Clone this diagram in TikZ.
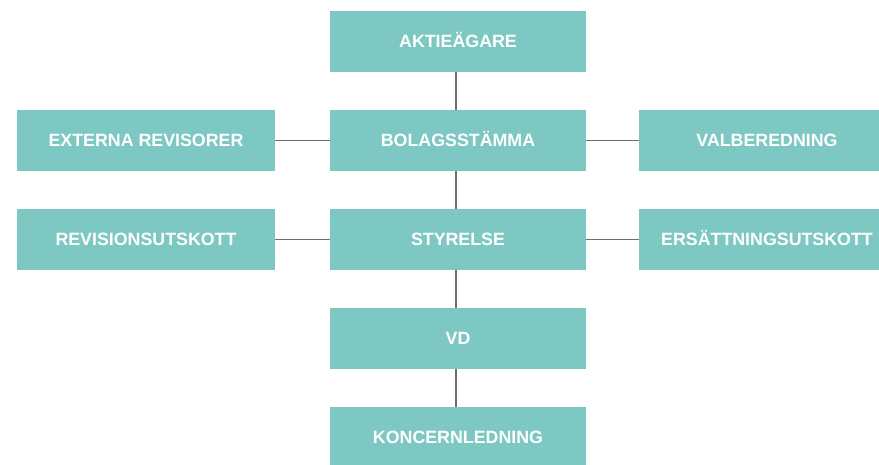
\documentclass[tikz,border=0pt]{standalone}
\usepackage{fontspec}
\setmainfont{Liberation Sans}
\definecolor{boxfill}{HTML}{7DC8C2}
\definecolor{linegray}{HTML}{6E6E6E}
\begin{document}
\begin{tikzpicture}[x=1pt,y=-1pt,
  orgbox/.style={fill=boxfill,draw=none,minimum width=256pt,minimum height=61pt,inner sep=0pt,
    text=white,font=\fontsize{17.8}{18}\selectfont\bfseries,text height=12.7pt,text depth=0pt,anchor=center},
  link/.style={draw=linegray,line width=1.6pt}]
\useasboundingbox (0,0) rectangle (879,464);
\fill[white] (0,0) rectangle (879,464);
\node[orgbox] (akt) at (458,41.5) {AKTIEÄGARE};
\node[orgbox] (bol) at (458,140.5) {BOLAGSSTÄMMA};
\node[orgbox] (sty) at (458,239.5) {STYRELSE};
\node[orgbox] (vd) at (458,338.5) {VD};
\node[orgbox] (kon) at (458,437.5) {KONCERNLEDNING};
\node[orgbox,minimum width=258pt] (ext) at (146,140.5) {EXTERNA REVISORER};
\node[orgbox,minimum width=258pt] (rev) at (146,239.5) {REVISIONSUTSKOTT};
\node[orgbox] (val) at (767,140.5) {VALBEREDNING};
\node[orgbox] (ers) at (767,239.5) {ERSÄTTNINGSUTSKOTT};
\draw[link] ([xshift=-2pt]akt.south) -- ([xshift=-2pt]bol.north);
\draw[link] ([xshift=-2pt]bol.south) -- ([xshift=-2pt]sty.north);
\draw[link] ([xshift=-2pt]sty.south) -- ([xshift=-2pt]vd.north);
\draw[link] ([xshift=-2pt]vd.south) -- ([xshift=-2pt]kon.north);
\draw[link] (ext.east) -- (bol.west);
\draw[link] (bol.east) -- (val.west);
\draw[link] (rev.east) -- (sty.west);
\draw[link] (sty.east) -- (ers.west);
\end{tikzpicture}
\end{document}
